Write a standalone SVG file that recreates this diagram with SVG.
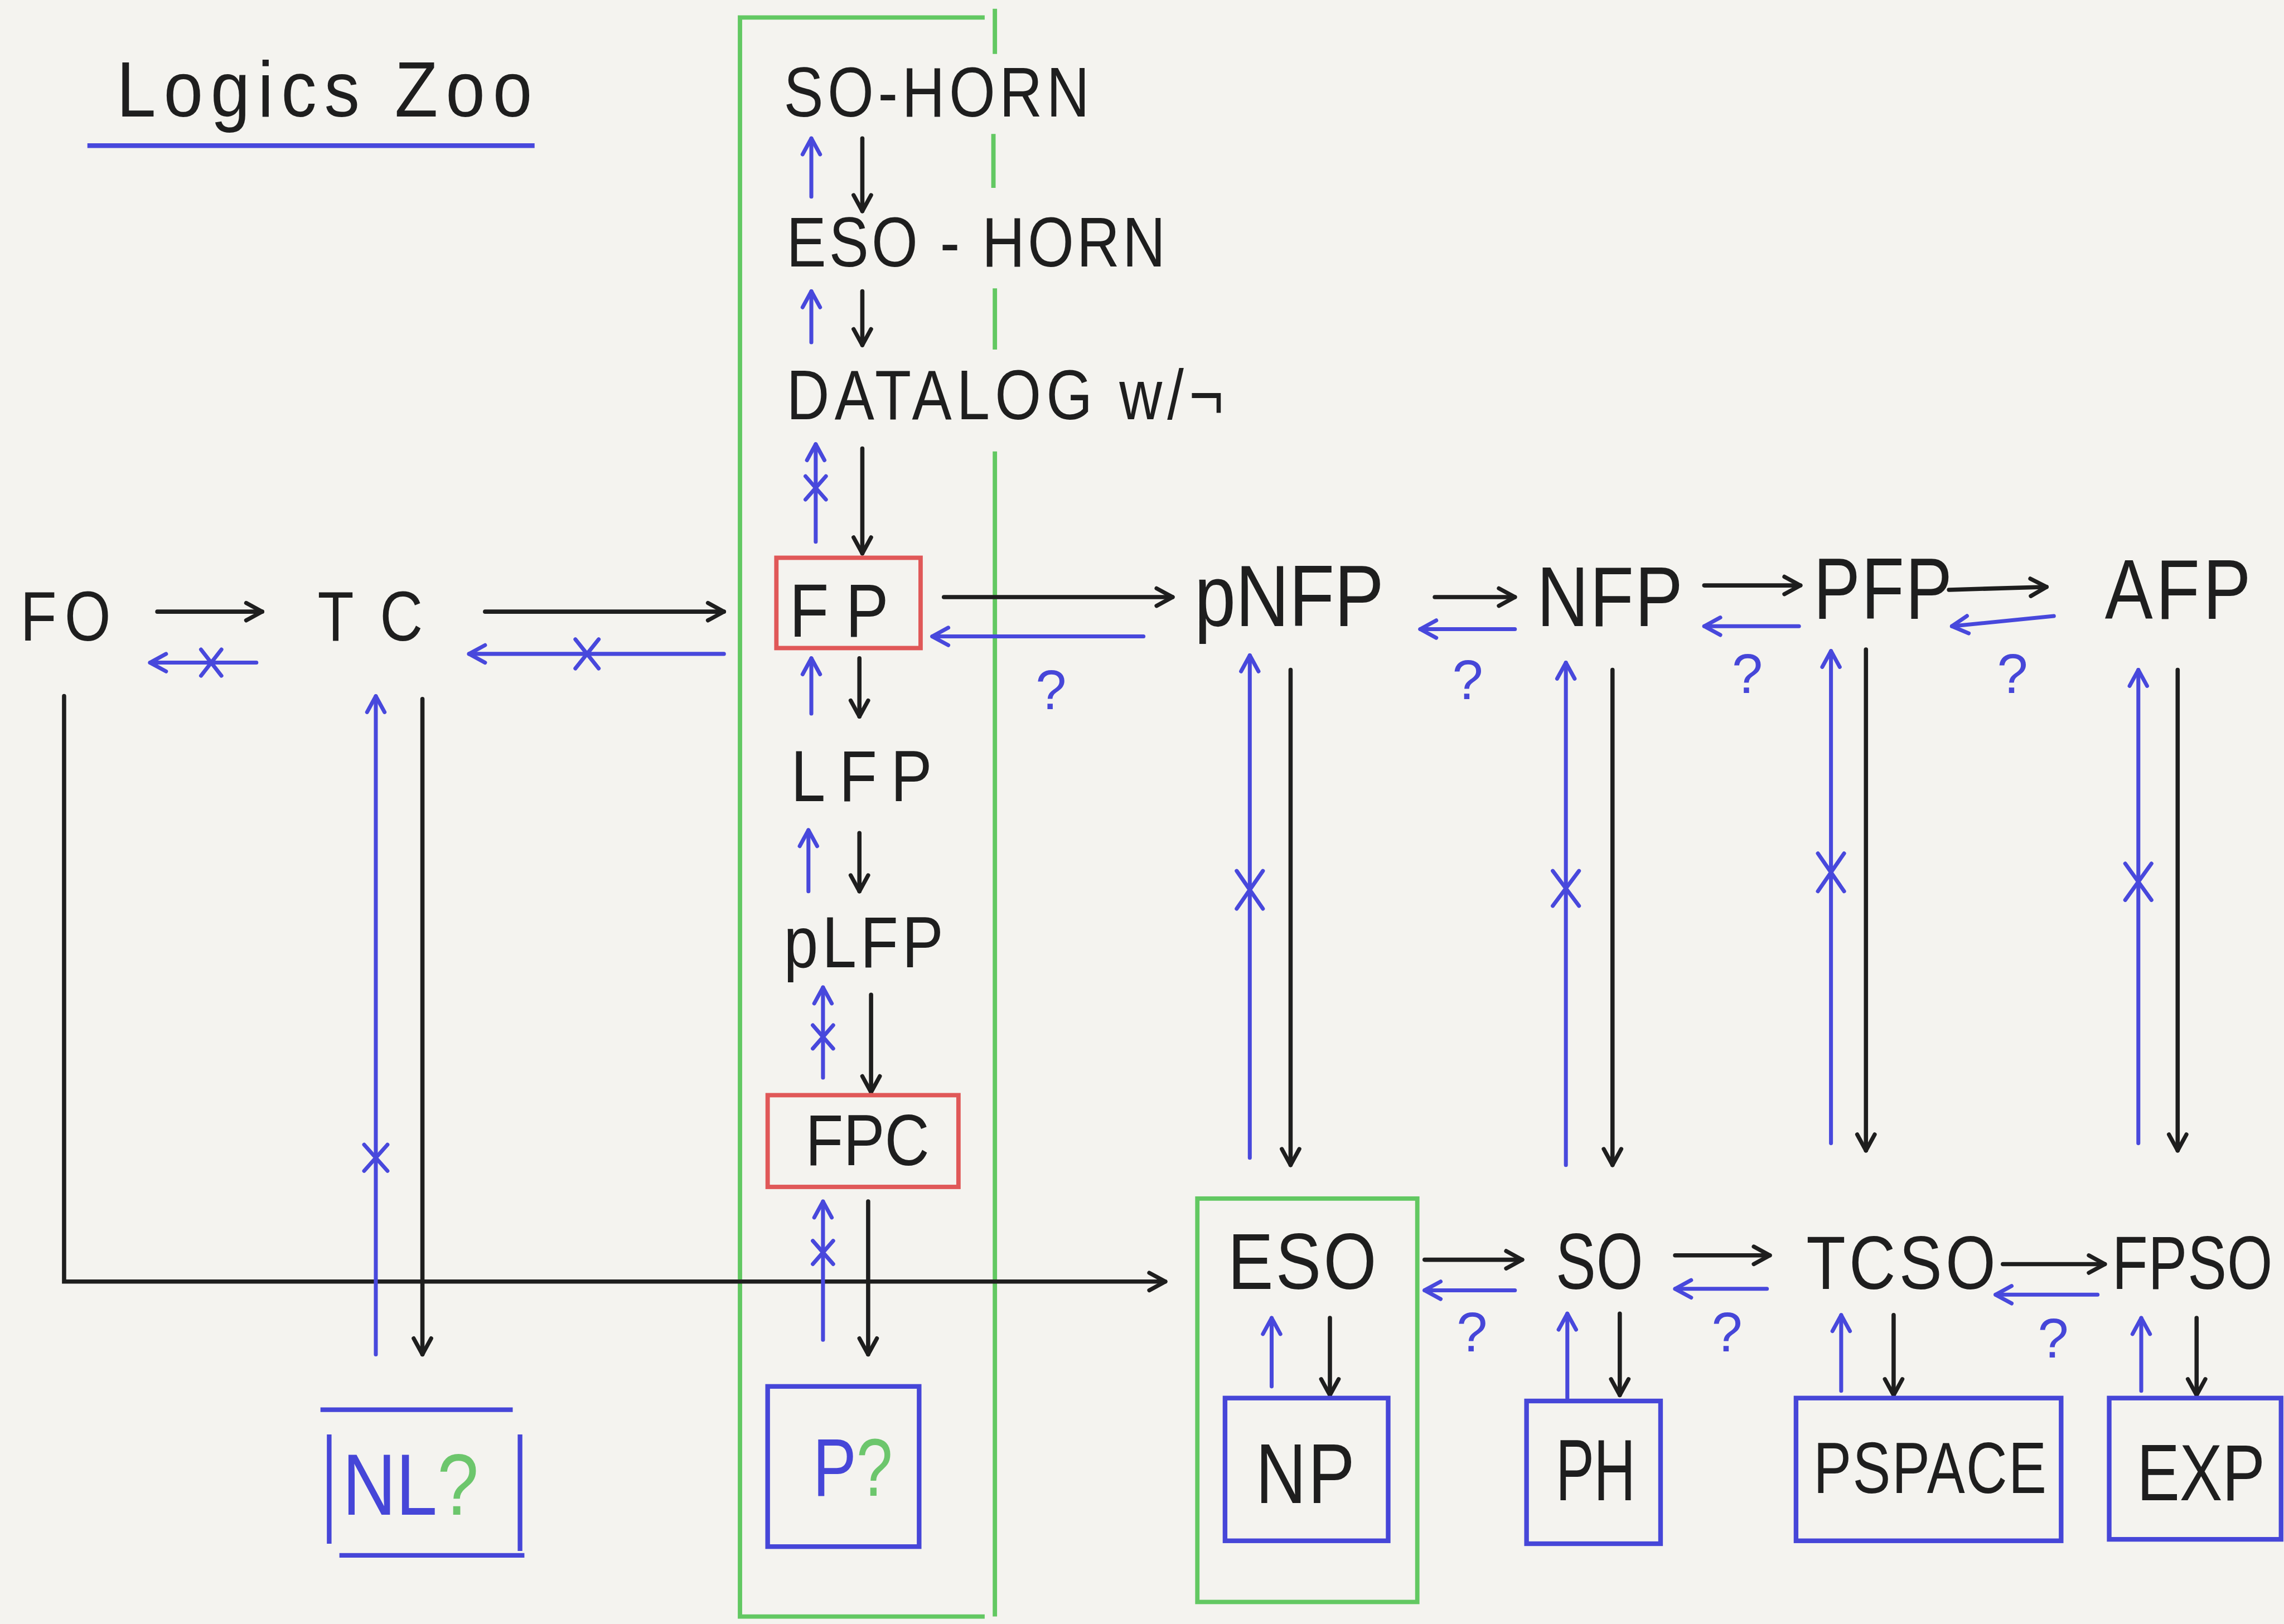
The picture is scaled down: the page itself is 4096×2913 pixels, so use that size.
<svg xmlns="http://www.w3.org/2000/svg" width="4096" height="2913" viewBox="0 0 4096 2913">
<style>
.t{font-family:"Liberation Sans","DejaVu Sans",sans-serif;fill:#1e1e1e}
.q{font-family:"Liberation Sans","DejaVu Sans",sans-serif;fill:#4646d8;font-size:38px}
.k{stroke:#1e1e1e;stroke-width:2.9;fill:none;marker-end:url(#ak);stroke-linecap:round}
.b{stroke:#4848dc;stroke-width:2.7;fill:none;marker-end:url(#ab);stroke-linecap:round}
.x{stroke:#4848dc;stroke-width:2.7;fill:none;stroke-linecap:round}
.gb{stroke:#62c862;stroke-width:3;fill:none}
.rb{stroke:#e05858;stroke-width:3;fill:none}
.bb{stroke:#4646d8;stroke-width:3.2;fill:none}
.blue{fill:#4646d8}
.green{fill:#6cc66c}
</style>
<defs>
<marker id="ak" viewBox="0 0 14 14" refX="13" refY="7" markerWidth="14" markerHeight="14" markerUnits="userSpaceOnUse" orient="auto" overflow="visible">
<path d="M2,1 L13,7 L2,13" fill="none" stroke="#1e1e1e" stroke-width="2.8" stroke-linecap="round" stroke-linejoin="round"/>
</marker>
<marker id="ab" viewBox="0 0 14 14" refX="13" refY="7" markerWidth="14" markerHeight="14" markerUnits="userSpaceOnUse" orient="auto" overflow="visible">
<path d="M2,1 L13,7 L2,13" fill="none" stroke="#4848dc" stroke-width="2.7" stroke-linecap="round" stroke-linejoin="round"/>
</marker>
</defs>
<rect width="4096" height="2913" fill="#f4f3ef"/>
<g transform="scale(2.612245)">
<g id="title">
<text class="t" transform="translate(80,80) scale(0.9,1)" font-size="54" textLength="317" lengthAdjust="spacing">Logics Zoo</text>
<line x1="60" y1="100" x2="367" y2="100" stroke="#4848dc" stroke-width="3.2"/>
</g>
<g id="frames">
<path class="gb" d="M676,12 H508 V1110 H676"/>
<path class="gb" d="M683,6 V37 M682,92 V129 M683,198 V240 M683,310 V1110"/>
<rect class="gb" x="822" y="823" width="151" height="277"/>
</g>
<g id="connectors">
<line class="k" x1="592" y1="95" x2="592" y2="145"/>
<line class="k" x1="592" y1="200" x2="592" y2="237"/>
<line class="k" x1="592" y1="308" x2="592" y2="380"/>
<line class="k" x1="590" y1="452" x2="590" y2="492"/>
<line class="k" x1="590" y1="572" x2="590" y2="612"/>
<line class="k" x1="598" y1="683" x2="598" y2="750"/>
<line class="k" x1="596" y1="825" x2="596" y2="930"/>
<line class="k" x1="108" y1="420" x2="180" y2="420"/>
<line class="k" x1="333" y1="420" x2="497" y2="420"/>
<line class="k" x1="648" y1="410" x2="805" y2="410"/>
<path class="k" d="M44,478 V880 H800"/>
<line class="k" x1="290" y1="480" x2="290" y2="930"/>
<line class="k" x1="985" y1="410" x2="1040" y2="410"/>
<line class="k" x1="1170" y1="402" x2="1236" y2="402"/>
<line class="k" x1="1338" y1="405" x2="1405" y2="403"/>
<line class="k" x1="886" y1="460" x2="886" y2="800"/>
<line class="k" x1="1107" y1="460" x2="1107" y2="800"/>
<line class="k" x1="1281" y1="446" x2="1281" y2="790"/>
<line class="k" x1="1495" y1="460" x2="1495" y2="790"/>
<line class="k" x1="978" y1="865" x2="1045" y2="865"/>
<line class="k" x1="1150" y1="862" x2="1215" y2="862"/>
<line class="k" x1="1375" y1="868" x2="1445" y2="868"/>
<line class="k" x1="913" y1="905" x2="913" y2="958"/>
<line class="k" x1="1112" y1="902" x2="1112" y2="958"/>
<line class="k" x1="1300" y1="903" x2="1300" y2="958"/>
<line class="k" x1="1508" y1="905" x2="1508" y2="958"/>

<line class="b" x1="557" y1="135" x2="557" y2="95"/>
<line class="b" x1="557" y1="235" x2="557" y2="200"/>
<line class="b" x1="560" y1="372" x2="560" y2="305"/>
<path class="x" d="M553,327 L567,343 M567,327 L553,343"/>
<line class="b" x1="176" y1="455" x2="103" y2="455"/>
<path class="x" d="M138,446 L152,464 M152,446 L138,464"/>
<line class="b" x1="497" y1="449" x2="322" y2="449"/>
<path class="x" d="M395,439 L411,459 M411,439 L395,459"/>
<line class="b" x1="785" y1="437" x2="640" y2="437"/>
<line class="b" x1="557" y1="490" x2="557" y2="452"/>
<line class="b" x1="555" y1="612" x2="555" y2="570"/>
<line class="b" x1="565" y1="740" x2="565" y2="678"/>
<path class="x" d="M558,704 L572,720 M572,704 L558,720"/>
<line class="b" x1="565" y1="920" x2="565" y2="825"/>
<path class="x" d="M558,852 L572,868 M572,852 L558,868"/>
<line class="b" x1="258" y1="930" x2="258" y2="478"/>
<path class="x" d="M250,786 L266,804 M266,786 L250,804"/>
<line class="b" x1="1040" y1="432" x2="975" y2="432"/>
<line class="b" x1="1235" y1="430" x2="1170" y2="430"/>
<line class="b" x1="1410" y1="423" x2="1340" y2="430"/>
<line class="b" x1="858" y1="795" x2="858" y2="450"/>
<path class="x" d="M849,598 L867,624 M867,598 L849,624"/>
<line class="b" x1="1075" y1="800" x2="1075" y2="455"/>
<path class="x" d="M1066,598 L1084,622 M1084,598 L1066,622"/>
<line class="b" x1="1257" y1="785" x2="1257" y2="447"/>
<path class="x" d="M1248,586 L1266,612 M1266,586 L1248,612"/>
<line class="b" x1="1468" y1="785" x2="1468" y2="460"/>
<path class="x" d="M1459,593 L1477,618 M1477,593 L1459,618"/>
<line class="b" x1="1040" y1="886" x2="978" y2="886"/>
<line class="b" x1="1213" y1="885" x2="1150" y2="885"/>
<line class="b" x1="1440" y1="889" x2="1370" y2="889"/>
<line class="b" x1="873" y1="952" x2="873" y2="905"/>
<line class="b" x1="1076" y1="960" x2="1076" y2="902"/>
<line class="b" x1="1264" y1="955" x2="1264" y2="903"/>
<line class="b" x1="1470" y1="955" x2="1470" y2="905"/>
<text class="q" x="711" y="487">?</text>
<text class="q" x="997" y="480">?</text>
<text class="q" x="1189" y="476">?</text>
<text class="q" x="1371" y="476">?</text>
<text class="q" x="1000" y="928">?</text>
<text class="q" x="1175" y="928">?</text>
<text class="q" x="1399" y="932">?</text>
</g>
<g id="n-sohorn"><text class="t" transform="translate(538,80) scale(0.85,1)" font-size="48" textLength="247" lengthAdjust="spacing">SO-HORN</text></g>
<g id="n-esohorn"><text class="t" transform="translate(540,183) scale(0.85,1)" font-size="48" textLength="306" lengthAdjust="spacing">ESO - HORN</text></g>
<g id="n-datalog"><text class="t" transform="translate(540,288) scale(0.85,1)" font-size="48" textLength="353" lengthAdjust="spacing">DATALOG w/¬</text></g>
<g id="n-fp"><rect class="rb" x="533" y="383" width="99" height="62"/><text class="t" transform="translate(542,437) scale(0.85,1)" font-size="52" textLength="80" lengthAdjust="spacing">FP</text></g>
<g id="n-fo"><text class="t" transform="translate(14,440) scale(0.85,1)" font-size="48" textLength="73" lengthAdjust="spacing">FO</text></g>
<g id="n-tc"><text class="t" transform="translate(218,440) scale(0.85,1)" font-size="48" textLength="85" lengthAdjust="spacing">TC</text></g>
<g id="n-lfp"><text class="t" transform="translate(543,550) scale(0.85,1)" font-size="50" textLength="114" lengthAdjust="spacing">LFP</text></g>
<g id="n-plfp"><text class="t" transform="translate(538,664) scale(0.85,1)" font-size="50" textLength="129" lengthAdjust="spacing">pLFP</text></g>
<g id="n-fpc"><rect class="rb" x="527" y="752" width="131" height="63"/><text class="t" transform="translate(553,800) scale(0.85,1)" font-size="50" textLength="100" lengthAdjust="spacing">FPC</text></g>
<g id="n-p"><rect class="bb" x="527" y="952" width="104" height="110"/><text transform="translate(558,1027) scale(0.8,1)" font-size="56" font-family="Liberation Sans, sans-serif"><tspan class="blue">P</tspan><tspan class="green">?</tspan></text></g>
<g id="n-nl"><path class="bb" d="M220,968 H352 M226,985 V1060 M357,985 V1065 M233,1068 H360"/><text transform="translate(235,1040) scale(0.85,1)" font-size="60" font-family="Liberation Sans, sans-serif"><tspan class="blue">NL</tspan><tspan class="green">?</tspan></text></g>
<g id="n-pnfp"><text class="t" transform="translate(820,430) scale(0.85,1)" font-size="60" textLength="153" lengthAdjust="spacing">pNFP</text></g>
<g id="n-nfp"><text class="t" transform="translate(1055,430) scale(0.85,1)" font-size="58" textLength="118" lengthAdjust="spacing">NFP</text></g>
<g id="n-pfp"><text class="t" transform="translate(1245,425) scale(0.8,1)" font-size="60" textLength="119" lengthAdjust="spacing">PFP</text></g>
<g id="n-afp"><text class="t" transform="translate(1445,425) scale(0.85,1)" font-size="58" textLength="118" lengthAdjust="spacing">AFP</text></g>
<g id="n-eso"><text class="t" transform="translate(843,885) scale(0.85,1)" font-size="55" textLength="120" lengthAdjust="spacing">ESO</text></g>
<g id="n-so"><text class="t" transform="translate(1068,885) scale(0.75,1)" font-size="55" textLength="80" lengthAdjust="spacing">SO</text></g>
<g id="n-tcso"><text class="t" transform="translate(1240,885) scale(0.85,1)" font-size="52" textLength="153" lengthAdjust="spacing">TCSO</text></g>
<g id="n-fpso"><text class="t" transform="translate(1450,885) scale(0.77,1)" font-size="52" textLength="143" lengthAdjust="spacing">FPSO</text></g>
<g id="n-np"><rect class="bb" x="841" y="960" width="112" height="98"/><text class="t" transform="translate(862,1032) scale(0.83,1)" font-size="58" textLength="82" lengthAdjust="spacing">NP</text></g>
<g id="n-ph"><rect class="bb" x="1048" y="962" width="92" height="98"/><text class="t" transform="translate(1068,1030) scale(0.66,1)" font-size="60" textLength="83" lengthAdjust="spacing">PH</text></g>
<g id="n-pspace"><rect class="bb" x="1233" y="960" width="182" height="98"/><text class="t" transform="translate(1245,1025) scale(0.78,1)" font-size="50" textLength="205" lengthAdjust="spacing">PSPACE</text></g>
<g id="n-exp"><rect class="bb" x="1448" y="960" width="118" height="97"/><text class="t" transform="translate(1467,1030) scale(0.8,1)" font-size="55" textLength="110" lengthAdjust="spacing">EXP</text></g>
</g>
</svg>
